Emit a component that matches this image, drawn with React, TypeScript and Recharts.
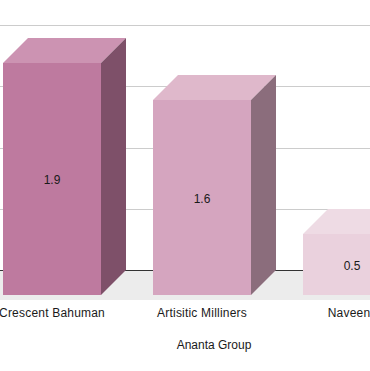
import { BarChart, Bar, XAxis, YAxis, CartesianGrid, ReferenceLine, LabelList } from "recharts"

const categories = ["Crescent Bahuman", "Artisitic Milliners", "Naveen"]
const values = [1.9, 1.6, 0.5]
const wallTicks = [0, 0.5, 1, 1.5, 2]
const gridValues = [0.5, 1, 1.5, 2]
const frontColors = ["#be7a9f", "#d5a5bf", "#ead1dd"]
const topColors = ["#cc93b2", "#dfb8cb", "#eedbe4"]
const sideColors = ["#7e5069", "#8b6d7c", "#9c8b93"]

const data = categories.map((name, i) => ({ name, value: values[i] }))

const DEPTH = 25
const FONT = "'Liberation Sans', sans-serif"
const TEXT = "#1a1a1a"

// the y axis belongs to the back wall, so the box is pushed one depth forward
function Box(props: any) {
    const { x, y: wallY, width, height, index } = props
    const y = Math.round(wallY + DEPTH)
    const r = x + width
    const b = Math.round(wallY + height + DEPTH - 0.5)
    return (
        <g>
            <rect x={x} y={y} width={width} height={b - y} fill={frontColors[index]} />
            <polygon
                points={`${x},${y} ${x + DEPTH},${y - DEPTH} ${r + DEPTH},${y - DEPTH} ${r},${y}`}
                fill={topColors[index]}
            />
            <polygon
                points={`${r},${y} ${r + DEPTH},${y - DEPTH} ${r + DEPTH},${b - DEPTH} ${r},${b}`}
                fill={sideColors[index]}
            />
        </g>
    )
}

function CategoryTick({ x, y, payload }: any) {
    // last label sits a little left of its bar in the reference
    const shift = payload.value === "Naveen" ? -3 : 0
    return (
        <text x={x + shift} y={y} dy={3} textAnchor="middle" fontFamily={FONT} fontSize={12} letterSpacing={0.2} fill={TEXT}>
            {payload.value}
        </text>
    )
}

export default function App() {
    return (
        <div style={{ position: "absolute", left: 0, top: 0, width: 370, height: 371, overflow: "hidden", background: "#ffffff" }}>
            {/* floor of the 3d box, behind the transparent chart */}
            <div style={{ position: "absolute", left: 0, top: 270, width: 370, height: 30, background: "#ececec" }} />
            <BarChart
                width={427}
                height={371}
                data={data}
                margin={{ top: 25.5, right: 0, left: -23, bottom: 0 }}
            >
                <XAxis
                    dataKey="name"
                    axisLine={false}
                    tickLine={false}
                    interval={0}
                    height={76}
                    tick={<CategoryTick />}
                    tickMargin={13}
                    label={{
                        value: "Ananta Group",
                        position: "insideBottom",
                        dx: 12,
                        dy: -17,
                        fontFamily: FONT,
                        fontSize: 12,
                        fill: TEXT
                    }}
                />
                <YAxis hide domain={[-0.2, 2]} ticks={wallTicks} width={0} />

                <CartesianGrid vertical={false} stroke="#cccccc" horizontalValues={gridValues} shapeRendering="crispEdges" />
                <ReferenceLine y={0} stroke="#333333" zIndex={-50} shapeRendering="crispEdges" />

                <Bar dataKey="value" barSize={98} shape={<Box />} isAnimationActive={false}>
                    <LabelList dataKey="value" position="center" dy={DEPTH + 1} fontFamily={FONT} fontSize={12} fill={TEXT} />
                </Bar>
            </BarChart>
        </div>
    )
}
